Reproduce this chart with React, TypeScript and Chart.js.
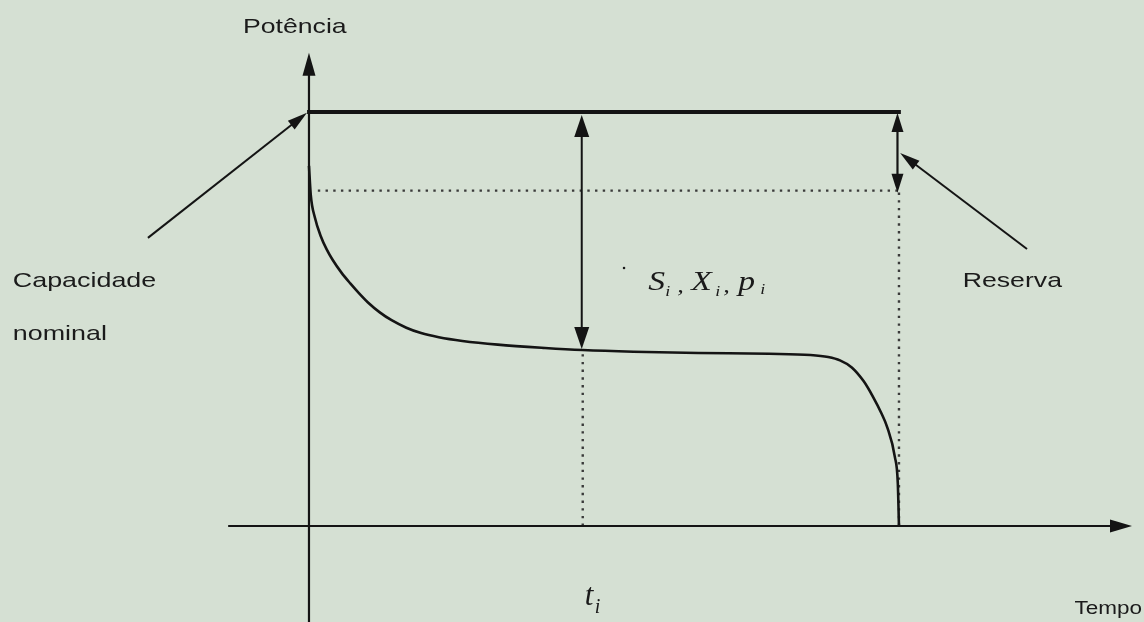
import React, { useEffect, useRef } from "react";
import { Chart, registerables } from "chart.js";

Chart.register(...registerables);

// ---- Data (time units: 0..100 = start..end of period; power units: 0..100 = nominal capacity)
const CURVE_TIME = [0, 0.3, 1, 2, 3, 4, 5.5, 7, 8.5, 10, 12, 14, 16.5, 19, 22, 26, 32, 40, 46.4, 55, 66, 78, 85, 88, 90, 92, 94, 95.6, 97, 98, 99.3, 99.8, 100];
const CURVE_POWER = [87, 80, 74.5, 70, 66.8, 64.3, 61.2, 58.6, 56.2, 54, 51.6, 49.7, 47.9, 46.6, 45.6, 44.7, 43.8, 43.0, 42.5, 42.1, 41.8, 41.6, 41.3, 40.8, 40.0, 38.3, 35.0, 31.2, 27.3, 23.9, 16.7, 10.4, 0];
const CAPACITY = 100;
const RESERVE_LEVEL = 81;
const T_I = 46.4;
const T_END = 100;
const POWER_AT_TI = 42.5;

const AXIS_LABELS = { y: "Potência", x: "Tempo" };
const ANNOTATION_LABELS = { capacity: ["Capacidade", "nominal"], reserve: "Reserva" };

// ---- view range of the scales (in data units)
const X_MIN = -52.37;
const X_MAX = 141.53;
const Y_MIN = -23.19;
const Y_MAX = 127.05;

const INK = "#141414";
const DOT = "#3a3a3a";
const BG = "#d5e0d3";

function head(ctx: CanvasRenderingContext2D, tx: number, ty: number, fx: number, fy: number, len: number, w: number) {
  const a = Math.atan2(ty - fy, tx - fx);
  const bx = tx - Math.cos(a) * len;
  const by = ty - Math.sin(a) * len;
  const nx = -Math.sin(a) * (w / 2);
  const ny = Math.cos(a) * (w / 2);
  ctx.beginPath();
  ctx.moveTo(tx, ty);
  ctx.lineTo(bx + nx, by + ny);
  ctx.lineTo(bx - nx, by - ny);
  ctx.closePath();
  ctx.fill();
}

function seg(ctx: CanvasRenderingContext2D, x1: number, y1: number, x2: number, y2: number, lw: number) {
  ctx.lineWidth = lw;
  ctx.beginPath();
  ctx.moveTo(x1, y1);
  ctx.lineTo(x2, y2);
  ctx.stroke();
}

function wideText(ctx: CanvasRenderingContext2D, text: string, x: number, y: number, font: string, sx: number, align: "left" | "right" = "left") {
  ctx.save();
  ctx.font = font;
  const w = ctx.measureText(text).width * sx;
  ctx.translate(align === "right" ? x - w : x, y);
  ctx.scale(sx, 1);
  ctx.textAlign = "left";
  ctx.textBaseline = "alphabetic";
  ctx.fillText(text, 0, 0);
  ctx.restore();
}

const overlay = {
  id: "diagramOverlay",
  beforeDraw(chart: any) {
    const { ctx, width, height } = chart;
    ctx.save();
    ctx.fillStyle = BG;
    ctx.fillRect(0, 0, width, height);
    ctx.restore();
  },
  afterDatasetsDraw(chart: any) {
    const { ctx } = chart;
    const xs = chart.scales.x;
    const ys = chart.scales.y;
    const X = (v: number) => xs.getPixelForValue(v);
    const Y = (v: number) => ys.getPixelForValue(v);
    ctx.save();
    ctx.strokeStyle = INK;
    ctx.fillStyle = INK;
    ctx.lineCap = "butt";

    // y axis (Potência)
    seg(ctx, X(0), Y(Y_MIN), X(0), Y(114.3) + 18, 2.2);
    head(ctx, X(0), Y(114.3), X(0), Y(0), 23, 13);
    // x axis (Tempo)
    seg(ctx, X(-13.7), Y(0), X(139.5) - 18, Y(0), 2.2);
    head(ctx, X(139.5), Y(0), X(0), Y(0), 22, 13);

    // double arrow S_i, X_i, p_i at t_i
    const ax = X(T_I) - 1;
    seg(ctx, ax, Y(CAPACITY) + 18, ax, Y(POWER_AT_TI) - 18, 2);
    head(ctx, ax, Y(CAPACITY) + 3, ax, Y(POWER_AT_TI), 22, 15);
    head(ctx, ax, Y(POWER_AT_TI) - 1, ax, Y(CAPACITY), 22, 15);

    // reserve double arrow
    const rx = X(T_END) - 1.5;
    seg(ctx, rx, Y(CAPACITY) + 14, rx, Y(RESERVE_LEVEL) - 14, 2.2);
    head(ctx, rx, Y(CAPACITY) + 1, rx, Y(RESERVE_LEVEL), 19, 12);
    head(ctx, rx, Y(RESERVE_LEVEL) + 2, rx, Y(CAPACITY), 19, 12);

    // pointer: Capacidade nominal
    {
      const fx = X(-27.3), fy = Y(69.6), tx = X(-0.34), ty = Y(99.8);
      const a = Math.atan2(ty - fy, tx - fx);
      seg(ctx, fx, fy, tx - Math.cos(a) * 15, ty - Math.sin(a) * 15, 2);
      head(ctx, tx, ty, fx, fy, 20, 11);
    }
    // pointer: Reserva
    {
      const fx = X(121.7), fy = Y(66.9), tx = X(100.2), ty = Y(90.1);
      const a = Math.atan2(ty - fy, tx - fx);
      seg(ctx, fx, fy, tx - Math.cos(a) * 15, ty - Math.sin(a) * 15, 2);
      head(ctx, tx, ty, fx, fy, 20, 11);
    }

    // labels
    ctx.fillStyle = "#1b1b1b";
    const sans = '21px "Liberation Sans", Arial, sans-serif';
    wideText(ctx, AXIS_LABELS.y, X(-11.2), Y(119.1), sans, 1.27);
    wideText(ctx, ANNOTATION_LABELS.capacity[0], X(-50.2), Y(57.7), sans, 1.28);
    wideText(ctx, ANNOTATION_LABELS.capacity[1], X(-50.2), Y(44.9), sans, 1.28);
    wideText(ctx, ANNOTATION_LABELS.reserve, X(110.8), Y(57.7), sans, 1.27);
    wideText(ctx, AXIS_LABELS.x, X(141.2), Y(-21.3), '18px "Liberation Sans", Arial, sans-serif', 1.25, "right");

    // S_i , X_i , p_i
    const serif = (s: number) => `italic ${s}px "Liberation Serif", "Times New Roman", serif`;
    const bx = X(57.5);
    const by = Y(57.0);
    ctx.fillStyle = "#1a1a1a";
    wideText(ctx, "S", bx, by, serif(28), 1.2);
    wideText(ctx, "i", bx + 17, by + 6, serif(15), 1.2);
    wideText(ctx, ",", bx + 29, by + 2, serif(22), 1.2);
    wideText(ctx, "X", bx + 43, by, serif(28), 1.2);
    wideText(ctx, "i", bx + 67, by + 6, serif(15), 1.2);
    wideText(ctx, ",", bx + 75, by + 2, serif(22), 1.2);
    wideText(ctx, "p", bx + 90, by, serif(28), 1.2);
    wideText(ctx, "i", bx + 112, by + 4, serif(15), 1.2);
    // small stray dot
    ctx.beginPath();
    ctx.arc(X(53.4), Y(62.3), 1.3, 0, Math.PI * 2);
    ctx.fill();

    // t_i
    wideText(ctx, "t", X(T_I) + 2, Y(-19.1), serif(31), 1.0);
    wideText(ctx, "i", X(T_I) + 12, Y(-19.1) + 8, serif(20), 1.0);

    ctx.restore();
  },
};

export default function App() {
  const ref = useRef<HTMLCanvasElement | null>(null);
  useEffect(() => {
    if (!ref.current) return;
    const curve = CURVE_TIME.map((t, i) => ({ x: t, y: CURVE_POWER[i] }));
    const dotted = {
      borderColor: DOT,
      borderWidth: 2.4,
      borderDash: [2.4, 5.3],
      pointRadius: 0,
      fill: false,
    };
    const chart = new Chart(ref.current, {
      type: "line",
      data: {
        datasets: [
          {
            label: "capacidade",
            data: [{ x: 0, y: CAPACITY }, { x: T_END, y: CAPACITY }],
            borderColor: INK,
            borderWidth: 3.8,
            pointRadius: 0,
            borderCapStyle: "square",
          },
          {
            label: "potência disponível",
            data: curve,
            borderColor: INK,
            borderWidth: 2.6,
            pointRadius: 0,
            cubicInterpolationMode: "monotone",
          },
          { label: "reserva", data: [{ x: 1.5, y: RESERVE_LEVEL }, { x: T_END, y: RESERVE_LEVEL }], ...dotted },
          { label: "t_i", data: [{ x: T_I, y: 0 }, { x: T_I, y: POWER_AT_TI }], ...dotted },
          { label: "fim", data: [{ x: T_END, y: 0 }, { x: T_END, y: RESERVE_LEVEL }], ...dotted },
        ],
      } as any,
      options: {
        responsive: false,
        animation: false,
        devicePixelRatio: 1,
        layout: { padding: 0 },
        plugins: { legend: { display: false }, tooltip: { enabled: false } },
        scales: {
          x: { type: "linear", min: X_MIN, max: X_MAX, display: false },
          y: { type: "linear", min: Y_MIN, max: Y_MAX, display: false },
        },
        elements: { point: { radius: 0 } },
      } as any,
      plugins: [overlay],
    });
    return () => chart.destroy();
  }, []);
  return (
    <div style={{ position: "fixed", left: 0, top: 0, width: 1144, height: 622, background: BG }}>
      <canvas ref={ref} width={1144} height={622} style={{ display: "block", width: 1144, height: 622 }} />
    </div>
  );
}
